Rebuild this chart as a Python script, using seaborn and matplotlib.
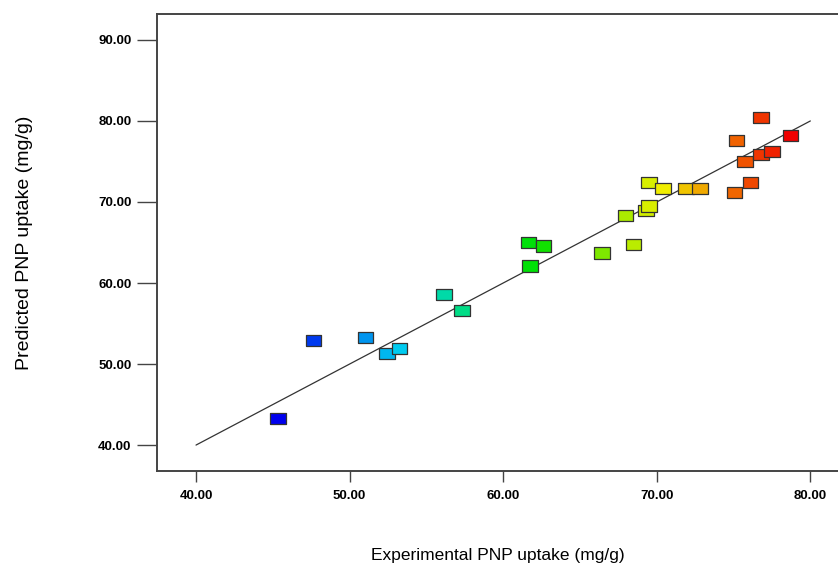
import numpy as np
import pandas as pd
import matplotlib
matplotlib.use("Agg")
import matplotlib.pyplot as plt
from matplotlib.colors import LinearSegmentedColormap, Normalize
import seaborn as sns

experimental = [45.34, 47.64, 51.05, 52.42, 53.25, 56.16, 57.33, 61.65, 62.63, 61.76,
                66.43, 68.50, 67.95, 69.30, 69.50, 69.50, 70.40, 71.90, 72.80, 75.05,
                76.10, 75.20, 75.75, 76.80, 76.80, 77.50, 78.70]
predicted = [43.25, 52.96, 53.25, 51.30, 51.90, 58.60, 56.60, 64.98, 64.57, 62.10,
             63.70, 64.80, 68.36, 69.00, 69.50, 72.40, 71.70, 71.70, 71.70, 71.15,
             72.40, 77.60, 75.00, 80.45, 75.85, 76.20, 78.15]
line_x = [40.0, 80.0]
line_y = [40.0, 80.0]
x_ticks = [40, 50, 60, 70, 80]
y_ticks = [40, 50, 60, 70, 80, 90]

df = pd.DataFrame({"Experimental": experimental, "Predicted": predicted})

sns.set_style("white")
plt.rcParams['font.family'] = ['Liberation Sans', 'DejaVu Sans']
plt.rcParams['text.color'] = 'black'
plt.rcParams['axes.labelcolor'] = 'black'
plt.rcParams['xtick.color'] = 'black'
plt.rcParams['ytick.color'] = 'black'

fig = plt.figure(figsize=(8.38, 5.67), dpi=100)
ax = fig.add_axes([157/838, 1-471/567, 1-157/838, (471-14)/567])

cmap = LinearSegmentedColormap.from_list(
    "de", ["#0000ee", "#00d8f0", "#00e000", "#f0f000", "#f00000"])

sns.lineplot(x=line_x, y=line_y, ax=ax, color="#333333", linewidth=0.9)

rect = [(-1.4, -1), (1.4, -1), (1.4, 1), (-1.4, 1), (-1.4, -1)]
sns.scatterplot(data=df, x="Experimental", y="Predicted", hue="Experimental",
                palette=cmap, hue_norm=Normalize(45.3, 78.7), marker=rect,
                s=125, edgecolor="#333333", linewidth=0.9, legend=False, ax=ax,
                zorder=3)

ax.set_xlim(37.46, 81.8)
ax.set_ylim(36.8, 93.2)
ax.set_xticks(x_ticks)
ax.set_yticks(y_ticks)
ax.set_xticklabels([f"{v:.2f}" for v in x_ticks], fontsize=9.5, fontweight="bold")
ax.set_yticklabels([f"{v:.2f}" for v in y_ticks], fontsize=9.5, fontweight="bold")
ax.tick_params(axis="y", direction="out", length=14.4, width=1.0, color="#444444",
               labelcolor="black", pad=4, left=True)
ax.tick_params(axis="x", direction="out", length=8, width=1.0, color="#444444",
               labelcolor="black", pad=6, bottom=True)

for s in ["left", "bottom", "top"]:
    ax.spines[s].set_color("#444444")
    ax.spines[s].set_linewidth(1.4)
ax.spines["right"].set_visible(False)

ax.set_xlabel("Experimental PNP uptake (mg/g)", fontsize=12.5, labelpad=33, color="black")
ax.set_ylabel("Predicted PNP uptake (mg/g)", fontsize=14, labelpad=47, color="black")

fig.savefig("out.png", dpi=100)
